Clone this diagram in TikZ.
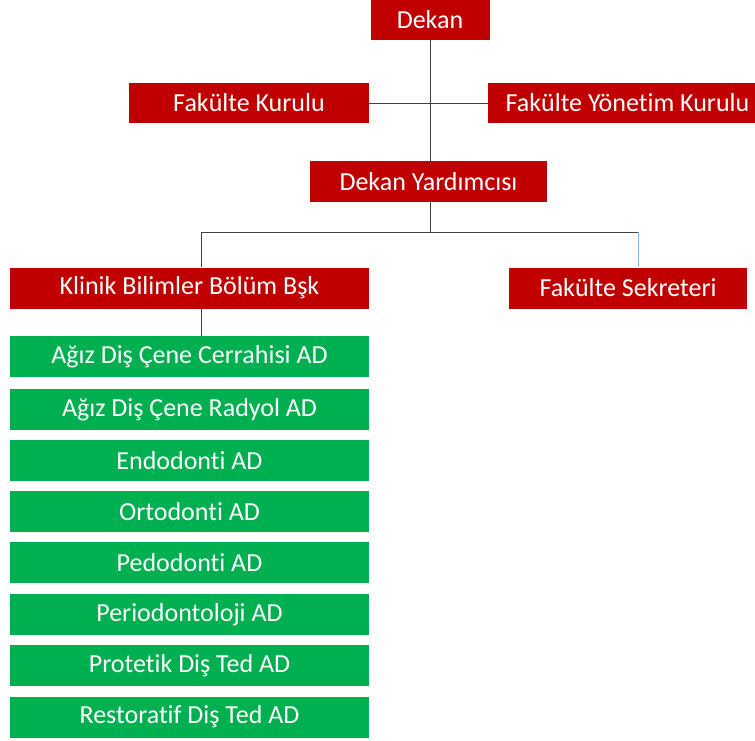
\documentclass[tikz,border=0pt]{standalone}
\usepackage{fontspec}
\setmainfont{Carlito}[Ligatures=NoCommon]
\definecolor{boxred}{HTML}{C00000}
\definecolor{boxgreen}{HTML}{00B050}
\definecolor{lineblue}{HTML}{8EB4E3}
\begin{document}
\begin{tikzpicture}[x=1pt,y=-1pt,
  box/.style={fill=boxred,text=white,inner sep=0pt,minimum height=41pt,
    font=\fontsize{26}{30}\selectfont,anchor=center},
  gbox/.style={box,fill=boxgreen,minimum width=359pt},
  conn/.style={draw=black!75,line width=0.8pt}]
\path[use as bounding box,fill=white] (0,0) rectangle (755,740);
\node[box,minimum width=119pt,minimum height=40pt] (dekan) at (430,20) {Dekan};
\node[box,minimum width=240pt,minimum height=40pt] (fk) at (249,103) {Fakülte Kurulu};
\node[box,minimum width=267pt,minimum height=40pt] (fyk) at (621.5,103) {\hspace*{12pt}Fakülte Yönetim Kurulu};
\node[box,minimum width=237pt] (dy) at (428.5,181.5) {Dekan Yardımcısı};
\node[box,minimum width=359pt] (kb) at (189.5,288) {Klinik Bilimler Bölüm Bşk};
\node[box,minimum width=238pt] (fs) at (628,288) {Fakülte Sekreteri};
\node[gbox] (g1) at (189.5,356.5) {Ağız Diş Çene Cerrahisi AD};
\node[gbox] (g2) at (189.5,409.5) {Ağız Diş Çene Radyol AD};
\node[gbox] (g3) at (189.5,460.5) {Endodonti AD};
\node[gbox] (g4) at (189.5,511.5) {Ortodonti AD};
\node[gbox] (g5) at (189.5,562.5) {Pedodonti AD};
\node[gbox] (g6) at (189.5,614.5) {Periodontoloji AD};
\node[gbox] (g7) at (189.5,665.5) {Protetik Diş Ted AD};
\node[gbox] (g8) at (189.5,717) {Restoratif Diş Ted AD};
\coordinate (j) at (430,232);
\coordinate (jl) at (201,232);
\coordinate (jr) at (638,232);
\draw[conn] (dekan.south) -- (dekan.south |- dy.north);
\draw[conn] (fk.east) -- (fyk.west);
\draw[conn] (dy.south -| j) -- (j);
\draw[conn] (jl) -- (jr);
\draw[conn] (jl) -- (kb.north -| jl);
\draw[draw=lineblue,line width=0.8pt] (jr) -- (fs.north -| jr);
\draw[conn] (kb.south -| jl) -- (g1.north -| jl);
\end{tikzpicture}
\end{document}
